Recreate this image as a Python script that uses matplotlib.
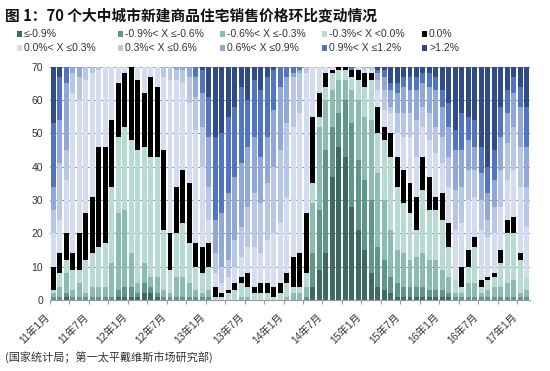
import matplotlib
matplotlib.use("Agg")
import matplotlib.pyplot as plt
import numpy as np
from matplotlib.patches import Rectangle
from matplotlib.transforms import ScaledTranslation

# ---------------- data (number of cities per bucket, 2011-01 .. 2017-02) ----------------
categories = ["≤-0.9%", "-0.9%< X ≤-0.6%", "-0.6%< X ≤-0.3%", "-0.3%< X <0.0%", "0.0%",
              "0.0%< X ≤0.3%", "0.3%< X ≤0.6%", "0.6%< X ≤0.9%", "0.9%< X ≤1.2%", ">1.2%"]
colors = ["#3d6b5f", "#5e9687", "#8abdb0", "#b7dbd2", "#000000",
          "#d3dcf0", "#b9c7e7", "#90a7d9", "#5175c0", "#304b85"]

dn09 = [0,0,1,0,0,0,0,0,0,0,1,1,1,1,2,2,1,0,0,0,0,0,0,0,0,0,0,0,0,0,0,0,0,0,0,0,0,0,0,0,
        4,9,14,37,46,43,28,21,15,8,4,3,2,1,1,1,1,1,1,1,1,1,0,0,0,0,0,0,0,0,0,0,0,0]
dn06 = [1,1,1,1,1,1,1,1,1,1,2,3,3,1,3,2,1,1,1,1,1,1,1,1,1,0,0,0,0,0,0,0,0,0,0,0,0,0,0,1,
        10,18,31,15,10,17,25,21,21,22,12,9,5,4,3,3,3,3,2,2,2,1,1,1,1,1,1,1,1,1,1,1,1,1]
dn03 = [1,3,6,2,4,1,3,3,3,10,23,23,10,3,6,3,5,2,1,6,6,4,2,1,2,0,0,0,0,1,1,0,0,0,0,0,1,2,2,3,
        15,25,15,11,10,6,10,18,19,24,22,18,14,10,10,8,9,10,9,9,6,5,1,1,4,4,1,2,3,3,4,5,1,2]
dn00 = [1,4,4,6,4,10,10,12,13,23,23,25,34,40,35,36,36,18,7,13,16,12,7,6,7,1,1,2,3,4,3,2,2,2,1,2,4,2,2,4,
        6,3,4,5,3,3,4,6,9,12,12,18,22,19,15,14,8,19,15,15,15,9,4,2,5,11,2,3,3,7,15,14,10,4]
flat = [7,6,8,5,11,14,17,30,29,20,16,16,22,21,16,24,21,24,11,14,16,18,7,8,7,3,1,1,2,2,4,2,3,3,3,3,3,9,10,18,
        20,7,4,1,1,1,2,3,4,2,8,4,7,9,10,9,10,10,10,4,8,7,0,6,5,3,2,1,1,4,4,5,2,0]
up03 = [10,10,16,48,40,40,37,23,24,16,5,2,0,4,8,3,6,22,46,32,26,24,34,24,7,4,3,4,5,6,8,12,9,13,16,18,23,39,42,42,
        15,8,2,1,0,0,0,1,1,1,5,5,6,7,10,14,12,9,11,13,9,11,15,13,15,12,15,12,12,13,12,14,20,15]
up06 = [7,17,9,6,7,4,2,1,0,0,0,0,0,0,0,0,0,3,4,3,4,8,10,12,10,6,5,5,8,9,12,16,15,17,20,22,22,15,12,2,
        0,0,0,0,0,0,0,0,1,1,3,6,2,6,7,7,11,6,8,8,8,9,12,11,9,8,9,5,8,11,11,13,12,12]
up09 = [7,13,20,2,3,0,0,0,0,0,0,0,0,0,0,0,0,0,0,1,1,3,6,10,15,10,16,20,19,19,18,17,14,14,17,19,14,1,1,0,
        0,0,0,0,0,0,0,0,0,0,2,4,5,6,8,7,9,7,8,11,9,9,12,11,9,7,8,8,8,10,9,10,12,12]
up12 = [19,13,5,0,0,0,0,0,0,0,0,0,0,0,0,0,0,0,0,0,0,0,3,7,12,25,24,23,21,23,14,17,20,18,12,6,3,2,1,0,
        0,0,0,0,0,0,1,0,0,0,1,2,2,3,3,4,4,3,4,4,5,7,6,11,7,8,8,8,9,9,7,5,6,12]
up12p = [17,3,0,0,0,0,0,0,0,0,0,0,0,0,0,0,0,0,0,0,0,0,0,1,9,21,20,15,12,6,10,4,7,3,1,0,0,0,0,0,
         0,0,0,0,0,0,0,0,0,0,1,1,5,5,3,3,3,2,2,3,7,11,19,14,15,16,24,30,25,12,7,3,6,12]

series = [dn09, dn06, dn03, dn00, flat, up03, up06, up09, up12, up12p]

tick_labels = ["11年1月", "11年7月", "12年1月", "12年7月", "13年1月", "13年7月", "14年1月",
               "14年7月", "15年1月", "15年7月", "16年1月", "16年7月", "17年1月"]

# ---------------- figure ----------------
W, H = 550, 371
fig = plt.figure(figsize=(W / 100, H / 100), dpi=100)
fig.patch.set_facecolor("white")

ax = fig.add_axes([50 / W, (H - 300) / H, 480 / W, (300 - 66.7) / H])
n = len(dn09)
x = np.arange(n)
bottom = np.zeros(n)
for vals, col in zip(series, colors):
    v = np.array(vals, dtype=float)
    ax.bar(x, v, bottom=bottom, width=0.77, color=col, linewidth=0, zorder=2)
    bottom += v

ax.set_xlim(-0.5, n - 0.5)
ax.set_ylim(0, 70)
ax.set_yticks(range(0, 71, 10))
ax.yaxis.grid(True, color="#9a9a9a", linewidth=0.8, zorder=0)
ax.set_axisbelow(True)
for s in ["top", "right", "left"]:
    ax.spines[s].set_visible(False)
ax.spines["bottom"].set_color("#9a9a9a")
ax.spines["bottom"].set_linewidth(0.8)

ax.tick_params(axis="y", length=0, labelsize=7.5, labelcolor="#333333", pad=5)
for lab in ax.get_yticklabels():
    lab.set_family(["Liberation Sans", "DejaVu Sans"])

# major ticks: marks every 3 categories at boundaries, no labels
ax.set_xticks(np.arange(-0.5, n, 3))
ax.set_xticklabels([])
ax.tick_params(axis="x", which="major", length=3, color="#9a9a9a", width=0.8)
# minor ticks: labels at every 6th category
ax.set_xticks(np.arange(0, n, 6)[:len(tick_labels)], tick_labels, minor=True)
ax.tick_params(axis="x", which="minor", length=0, pad=8.5, labelsize=7.5, labelcolor="#333333")
off = ScaledTranslation(-9 / 100, 0, fig.dpi_scale_trans)
for lab in ax.get_xticklabels(minor=True):
    lab.set_rotation(45)
    lab.set_ha("right")
    lab.set_va("top")
    lab.set_rotation_mode("anchor")
    lab.set_family(["Liberation Sans", "Noto Sans CJK SC"])
    lab.set_transform(lab.get_transform() + off)

# ---------------- title ----------------
fig.text(5 / W, 1 - 16 / H, "图 1：70 个大中城市新建商品住宅销售价格环比变动情况",
         fontsize=10.6, fontweight="bold", family=["Noto Sans CJK SC", "DejaVu Sans"],
         color="#111111", va="center", ha="left")

# ---------------- legend (manual, 2 rows x 5 columns) ----------------
col_x = [17, 118, 220, 322, 422]
row_y = [34, 48]
for i, (lab, col) in enumerate(zip(categories, colors)):
    r, c = divmod(i, 5)
    px, py = col_x[c], row_y[r]
    fig.patches.append(Rectangle((px / W, (H - py - 2.5) / H), 5 / W, 5 / H,
                                 transform=fig.transFigure, facecolor=col, edgecolor="none"))
    fig.text((px + 7) / W, 1 - py / H, lab, fontsize=7.5, color="#333333",
             family=["Liberation Sans", "DejaVu Sans"], va="center", ha="left")

# ---------------- source ----------------
fig.text(5 / W, 1 - 357 / H, "(国家统计局；第一太平戴维斯市场研究部)", fontsize=8,
         style="italic", family=["Noto Sans CJK SC", "DejaVu Sans"], color="#333333",
         va="center", ha="left")

fig.savefig("out.png", dpi=100, facecolor="white")
